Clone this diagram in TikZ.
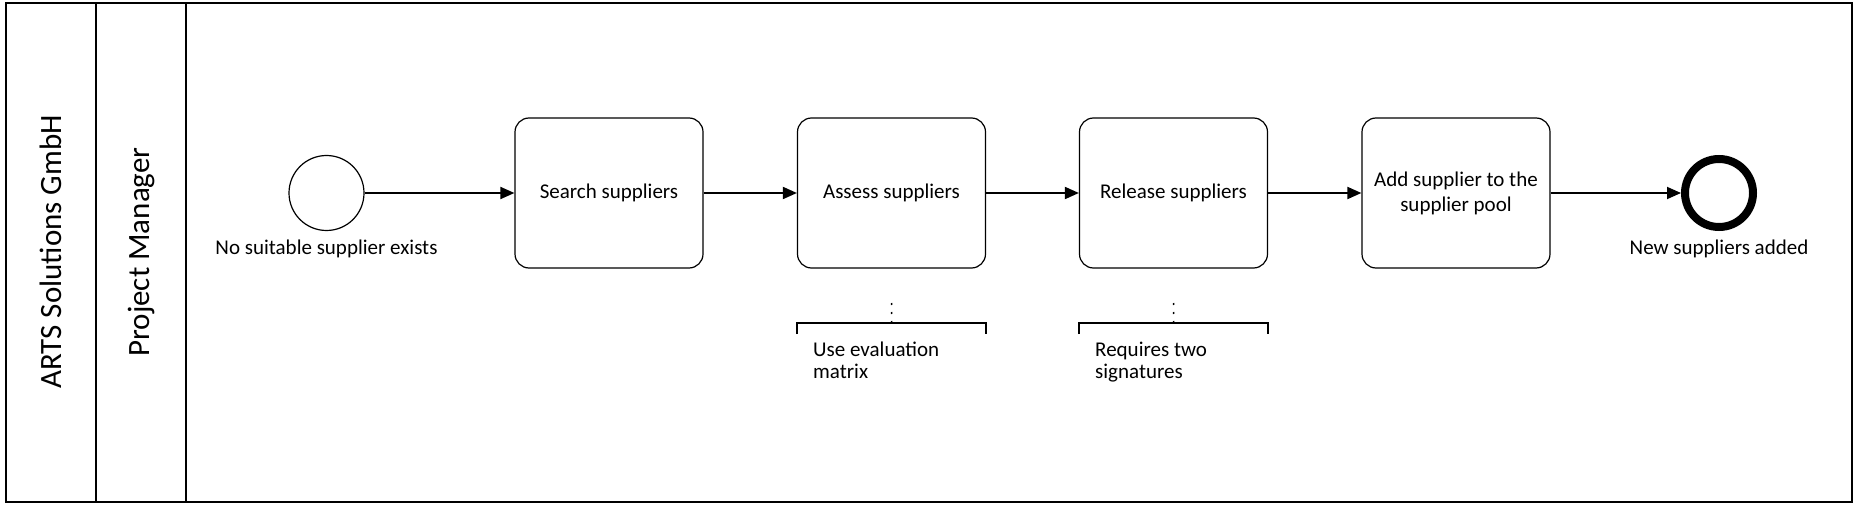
\documentclass[tikz,border=0pt]{standalone}
\usepackage{fontspec}
\setmainfont{Carlito}
\usetikzlibrary{arrows.meta}
\usetikzlibrary{positioning}
\tikzset{
  txt/.style = {font=\fontsize{21}{25}\selectfont},
  task/.style = {draw, txt, rounded corners=14pt, minimum width=188pt, minimum height=150pt, align=center, inner sep=0pt, line width=1.2pt},
  startev/.style = {draw, circle, minimum size=75pt, inner sep=0pt, line width=1.2pt},
  endev/.style = {draw, circle, minimum size=68pt, inner sep=0pt, line width=8pt},
  evlabel/.style = {txt, inner sep=0pt},
  flow/.style = {-{Triangle[length=14pt,width=12pt]}, line width=1.8pt},
  lanelabel/.style = {rotate=90, font=\fontsize{31}{36}\selectfont},
  note/.style = {align=flush left, font=\fontsize{21}{22}\selectfont, minimum width=189pt, text width=157pt, inner xsep=16pt, inner ysep=19pt, anchor=north west},
  assoc/.style = {line width=1.5pt, dash pattern=on 2pt off 7pt}
}

\begin{document}
\begin{tikzpicture}[x=1pt, y=-1pt]
\useasboundingbox (0,0) rectangle (1856,505);
% pool and lane
\draw[line width=2.6pt] (6,3) rectangle (1852,502);
\draw[line width=2pt] (96,3) -- (96,502);
\draw[line width=2pt] (186,3) -- (186,502);
\node[lanelabel] (org) at (51,252) {ARTS Solutions GmbH};
\node[lanelabel] (pm) at (141,252) {Project Manager};

% events and tasks
\node[startev] (start) at (326.5,193) {};
\node[evlabel, below=9pt of start] (startlbl) {No suitable supplier exists};
\node[task] (search) at (609,193) {Search suppliers};
\node[task] (assess) at (891.5,193) {Assess suppliers};
\node[task] (release) at (1173.5,193) {Release suppliers};
\node[task] (addpool) at (1456,193) {Add supplier to the\\supplier pool};
\node[endev] (end) at (1719,193) {};
\node[evlabel, below=9pt of end] (endlbl) {New suppliers added};

% sequence flows
\draw[flow] (start) -- (search);
\draw[flow] (search) -- (assess);
\draw[flow] (assess) -- (release);
\draw[flow] (release) -- (addpool);
\draw[flow] (addpool) -- (end);

% annotations
\node[note] (note1) at (797,323) {Use evaluation\\matrix};
\node[note] (note2) at (1079,323) {Requires two\\signatures};
\foreach \n in {note1, note2}{
  \draw[line width=2pt] (\n.north west) ++(0,11) -- (\n.north west) -- (\n.north east) -- ++(0,11);
}
\coordinate (a1) at (891.5,303);
\coordinate (a2) at (1173.5,303);
\draw[assoc] (a1) -- (note1.north);
\draw[assoc] (a2) -- (note2.north);
\end{tikzpicture}
\end{document}
